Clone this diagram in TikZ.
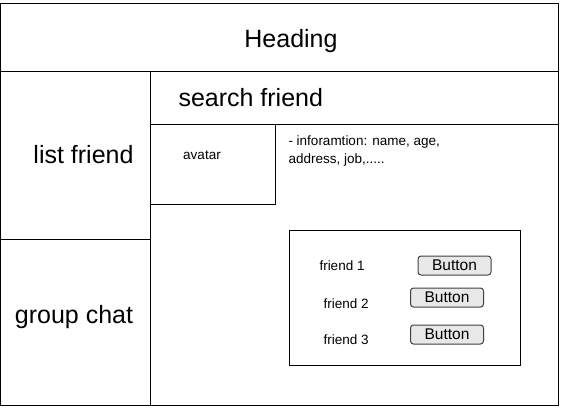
\documentclass[tikz,border=0pt]{standalone}
\usepackage{fontspec}
\setmainfont{Liberation Sans}

\begin{document}
\begin{tikzpicture}[x=1pt,y=-1pt,line width=1pt,
	big_text/.style={font=\fontsize{25}{30}\selectfont,inner sep=0pt},
	small_text/.style={font=\fontsize{13.5}{18}\selectfont,inner sep=0pt},
	btn_node/.style={draw=black!75,fill=black!9,rounded corners=3pt,minimum width=73pt,minimum height=19pt,inner sep=0pt,font=\fontsize{15.5}{18}\selectfont}]
	\useasboundingbox (0,0) rectangle (562,408);
	\fill[white] (0,0) rectangle (562,408);
	\draw (0,3.5) rectangle (558,405);
	\draw (0,71) -- (558,71);
	\draw (150,71) -- (150,405);
	\draw (0,239) -- (150,239);
	\draw (150,124) -- (558,124);
	\draw (150,124) rectangle (275,204);
	\draw (289,230) rectangle (520,365);
	\node[big_text,anchor=base] (heading) at (291,47) {Heading};
	\node[big_text,anchor=base east] (list) at (134,163) {list friend};
	\node[big_text,anchor=base] (group) at (74,323) {group chat};
	\node[big_text,anchor=base west] (search) at (178,106) {search friend};
	\node[small_text,anchor=base] (avatar) at (202,159) {avatar};
	\node[small_text,anchor=north west,align=left] (info) at (288,135) {- inforamtion: name, age,\\address, job,.....};
	\node[small_text,anchor=base west] (f1) at (319,270) {friend 1};
	\node[small_text,anchor=base west] (f2) at (323,308) {friend 2};
	\node[small_text,anchor=base west] (f3) at (323,344) {friend 3};
	\node[btn_node] (b1) at (454.5,265.5) {Button};
	\node[btn_node] (b2) at (447,297.5) {Button};
	\node[btn_node] (b3) at (447,334.5) {Button};
\end{tikzpicture}
\end{document}
